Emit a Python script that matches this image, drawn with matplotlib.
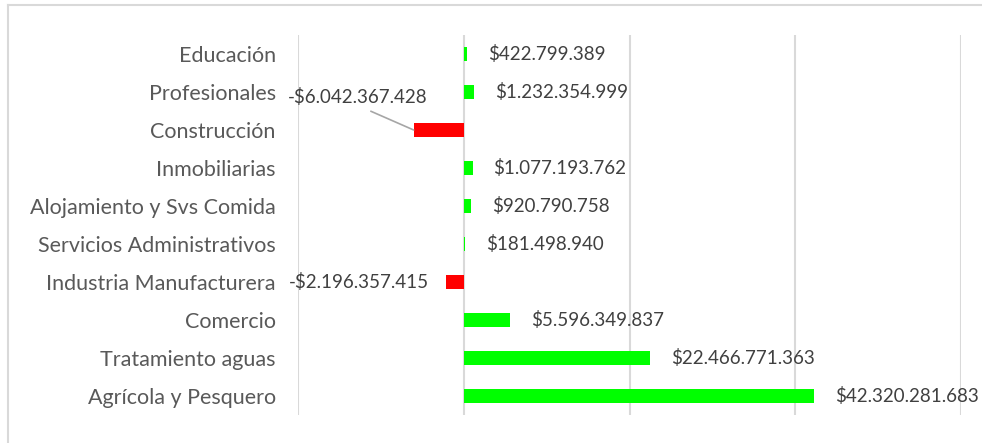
import matplotlib
matplotlib.use("Agg")
import matplotlib.pyplot as plt
from matplotlib.lines import Line2D

# sectors, top to bottom as in the chart
sectores = ['Educación', 'Profesionales', 'Construcción', 'Inmobiliarias',
            'Alojamiento y Svs Comida', 'Servicios Administrativos',
            'Industria Manufacturera', 'Comercio', 'Tratamiento aguas',
            'Agrícola y Pesquero']
valores = [422799389, 1232354999, -6042367428, 1077193762, 920790758,
           181498940, -2196357415, 5596349837, 22466771363, 42320281683]
ticks_x = [-20e9, 0, 20e9, 40e9, 60e9]

plt.rcParams['font.family'] = ['Lato', 'DejaVu Sans']

fig = plt.figure(figsize=(9.82, 4.43), dpi=100)
ax = fig.add_axes([298/982, 28/443, 663/982, 380/443])

# chart frame (cut off on the right and bottom)
fig.add_artist(Line2D([8/982, 1], [438/443, 438/443], color='#d9d9d9', lw=1.5))
fig.add_artist(Line2D([8/982, 8/982], [0, 438/443], color='#d9d9d9', lw=1.5))

ypos = list(range(len(sectores)))
colores = ['#00ff00' if v > 0 else '#ff0000' for v in valores]
ax.barh(ypos, valores, height=0.36, color=colores, zorder=3)

ax.set_xlim(ticks_x[0], ticks_x[-1])
ax.set_ylim(len(sectores) - 0.5, -0.5)
ax.set_xticks(ticks_x)
ax.set_xticklabels([])
ax.set_yticks(ypos)
ax.set_yticklabels(sectores, fontsize=15.5, color='#595959')
ax.tick_params(length=0, pad=16)
ax.grid(axis='x', color='#d9d9d9', lw=1.5, zorder=0)
for s in ax.spines.values():
    s.set_visible(False)

def fmt(v):
    txt = '$' + f"{abs(v):,}".replace(',', '.')
    return '-' + txt if v < 0 else txt

lbl_size = 13.5
for i, v in enumerate(valores):
    if sectores[i] == 'Construcción':
        # label moved up-left with a leader line
        ax.annotate(fmt(v), xy=(v, i), xytext=(-40, 24), textcoords='offset points',
                    ha='center', va='center', fontsize=lbl_size, color='#404040',
                    arrowprops=dict(arrowstyle='-', color='#a6a6a6', lw=1.2,
                                    relpos=(0.5, 0), shrinkA=5, shrinkB=0),
                    annotation_clip=False)
    elif v > 0:
        ax.annotate(fmt(v), xy=(v, i), xytext=(15, 0), textcoords='offset points',
                    ha='left', va='center', fontsize=lbl_size, color='#404040',
                    annotation_clip=False)
    else:
        ax.annotate(fmt(v), xy=(v, i), xytext=(-12, 0), textcoords='offset points',
                    ha='right', va='center', fontsize=lbl_size, color='#404040',
                    annotation_clip=False)

fig.savefig('out.png', dpi=100)
